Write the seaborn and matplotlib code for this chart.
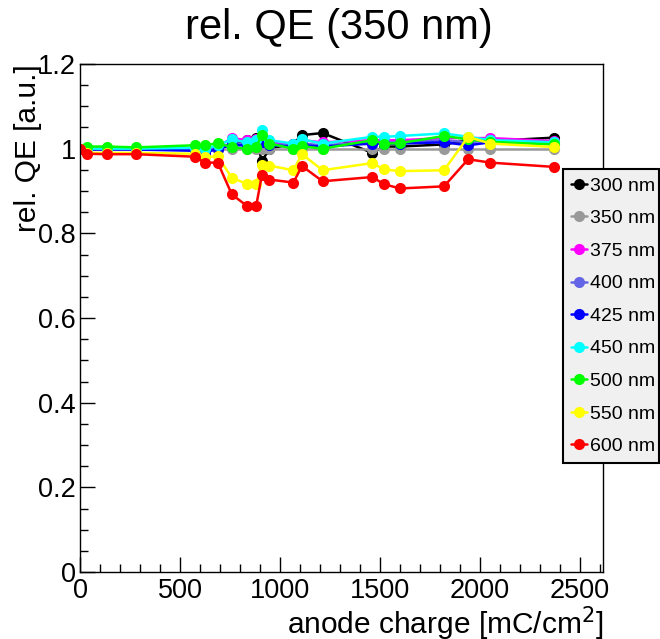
import numpy as np
import pandas as pd
import matplotlib
matplotlib.use("Agg")
import matplotlib.pyplot as plt
import seaborn as sns
from matplotlib.ticker import MultipleLocator, FixedLocator, FixedFormatter

# ---- data ----
charge = [0, 33, 133, 279, 573, 623, 689, 759, 834, 881, 909, 947, 1067, 1110,
          1213, 1462, 1520, 1600, 1820, 1941, 2052, 2368]

qe_300 = [1.0, 1.0, 1.0, 1.0, 0.997, 0.993, 1.0, 1.012, 1.02, 1.025, 0.970, 1.0,
          1.012, 1.032, 1.037, 0.99, 1.005, 1.005, 1.01, 1.02, 1.018, 1.026]
qe_350 = [1.0] * 22
qe_375 = [1.0, 1.0, 1.0, 1.0, 1.0, 0.998, 1.005, 1.025, 1.02, 1.022, 1.03, 1.015,
          1.012, 1.02, 1.015, 1.02, 1.02, 1.02, 1.025, 1.025, 1.025, 1.018]
qe_400 = [1.0, 1.0, 1.0, 1.0, 1.0, 0.997, 1.003, 1.012, 1.012, 1.015, 1.02, 1.01,
          1.008, 1.012, 1.008, 1.015, 1.015, 1.015, 1.02, 1.015, 1.02, 1.015]
qe_425 = [1.0, 0.998, 0.998, 0.998, 0.995, 0.99, 1.0, 1.008, 1.008, 1.01, 1.015, 1.008,
          1.005, 1.008, 1.005, 1.012, 1.012, 1.012, 1.015, 1.008, 1.015, 1.012]
qe_450 = [1.0, 1.0, 1.0, 1.0, 1.002, 1.0, 1.008, 1.022, 1.015, 1.02, 1.045, 1.02,
          1.012, 1.022, 1.012, 1.028, 1.028, 1.03, 1.036, 1.028, 1.02, 1.015]
qe_500 = [1.0, 1.005, 1.005, 1.003, 1.008, 1.008, 1.013, 1.003, 1.0, 1.004, 1.032, 1.012,
          1.0, 1.006, 1.0, 1.02, 1.012, 1.013, 1.03, 1.022, 1.016, 1.01]
qe_550 = [1.0, 0.99, 0.99, 0.99, 0.988, 0.98, 0.982, 0.931, 0.917, 0.917, 0.961, 0.96,
          0.949, 0.987, 0.949, 0.966, 0.951, 0.947, 0.949, 1.028, 1.012, 1.004]
qe_600 = [1.0, 0.988, 0.987, 0.987, 0.981, 0.967, 0.967, 0.892, 0.865, 0.865, 0.937, 0.927,
          0.920, 0.959, 0.923, 0.933, 0.916, 0.906, 0.911, 0.975, 0.967, 0.957]

series_labels = ["300 nm", "350 nm", "375 nm", "400 nm", "425 nm",
                 "450 nm", "500 nm", "550 nm", "600 nm"]
series_values = [qe_300, qe_350, qe_375, qe_400, qe_425, qe_450, qe_500, qe_550, qe_600]
series_colors = ["#000000", "#999999", "#ff00ff", "#6464e6", "#0000ff",
                 "#00ffff", "#00ff00", "#ffff00", "#ff0000"]

x_ticks = [0, 500, 1000, 1500, 2000, 2500]
y_ticks = [0, 0.2, 0.4, 0.6, 0.8, 1.0, 1.2]
y_tick_labels = ["0", "0.2", "0.4", "0.6", "0.8", "1", "1.2"]

# ---- style ----
sns.set_style("white")
plt.rcParams["font.family"] = ["Liberation Sans", "DejaVu Sans"]
plt.rcParams["text.color"] = "black"
plt.rcParams["axes.labelcolor"] = "black"
plt.rcParams["xtick.color"] = "black"
plt.rcParams["ytick.color"] = "black"

fig = plt.figure(figsize=(6.6, 6.39), dpi=100)
ax = fig.add_axes([80 / 660, 1 - 572 / 639, 523 / 660, 508 / 639])

for lab, vals, col in zip(series_labels, series_values, series_colors):
    df = pd.DataFrame({"charge": charge, "qe": vals})
    sns.lineplot(data=df, x="charge", y="qe", ax=ax, color=col, marker="o",
                 markersize=9.5, markeredgewidth=0, linewidth=1.8, sort=False,
                 label=lab, legend=False)

ax.set_xlim(0, 2615)
ax.set_ylim(0, 1.2)
ax.xaxis.set_major_locator(FixedLocator(x_ticks))
ax.xaxis.set_minor_locator(MultipleLocator(100))
ax.yaxis.set_major_locator(FixedLocator(y_ticks))
ax.yaxis.set_major_formatter(FixedFormatter(y_tick_labels))
ax.yaxis.set_minor_locator(MultipleLocator(0.05))

ax.tick_params(axis="both", which="both", direction="in", bottom=True, left=True,
               top=False, right=False, colors="black", labelsize=19.5,
               labelcolor="black")
ax.tick_params(axis="both", which="major", length=11, width=1.0)
ax.tick_params(axis="both", which="minor", length=5.5, width=1.0)
ax.tick_params(axis="x", which="major", pad=4)
ax.tick_params(axis="y", which="major", pad=3)

for s in ax.spines.values():
    s.set_color("black")
    s.set_linewidth(1.0)

ax.set_xlabel("anode charge [mC/cm$^{2}$]", fontsize=21.5, loc="right", labelpad=1,
              color="black")
ax.set_ylabel("rel. QE [a.u.]", fontsize=21.5, loc="top", color="black")
ax.yaxis.set_label_coords(-0.073, 1.0)

fig.text(339 / 660, 1 - 39 / 639, "rel. QE (350 nm)", fontsize=30,
         ha="center", va="baseline", color="black")

handles, labels = ax.get_legend_handles_labels()
for h in handles:
    h.set_markersize(8)
leg = fig.legend(handles, labels, loc="lower left",
                 bbox_to_anchor=(563 / 660, 1 - 463 / 639, 96 / 660, 288 / 639),
                 mode="expand", fontsize=14, frameon=True, fancybox=False,
                 facecolor="#f0f0f0", edgecolor="black", framealpha=1,
                 handlelength=0.85, handletextpad=0.15, labelspacing=0.77,
                 borderpad=0.4, borderaxespad=0)
leg.get_frame().set_linewidth(1.5)
for t in leg.get_texts():
    t.set_color("black")

fig.savefig("out.png", dpi=100)
